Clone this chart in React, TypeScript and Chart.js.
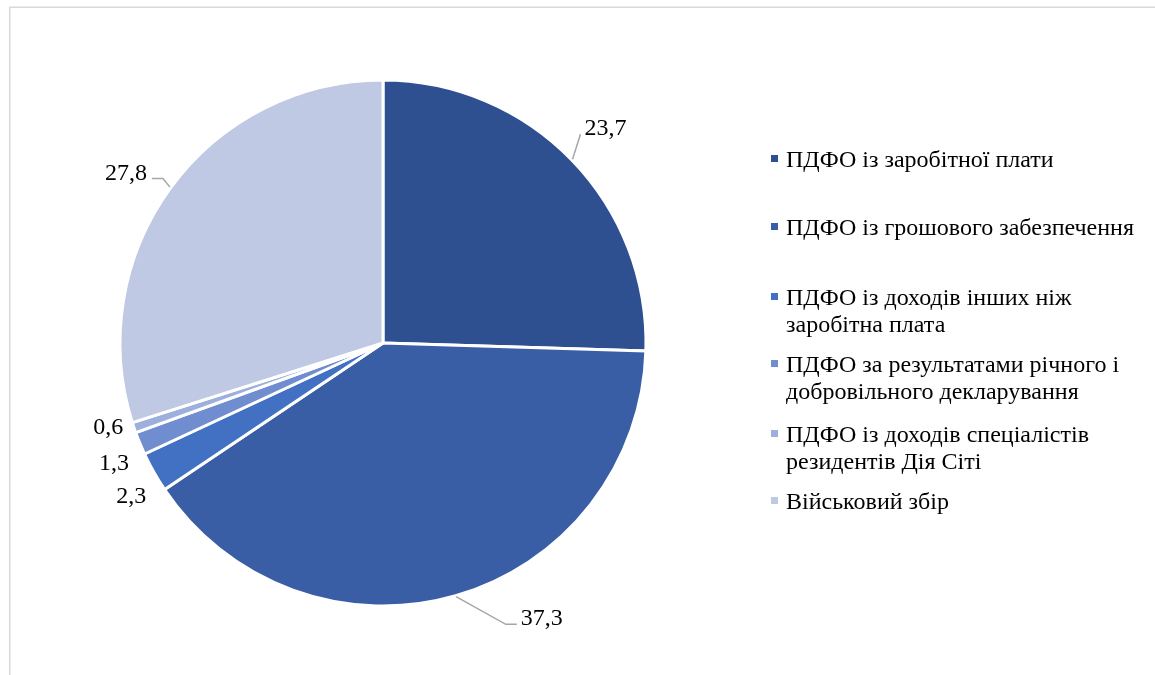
import React, { useEffect, useRef } from "react";
import { Chart, registerables } from "chart.js";

Chart.register(...registerables);

const categories: string[][] = [
  ["ПДФО із заробітної плати"],
  ["ПДФО із грошового забезпечення"],
  ["ПДФО із доходів інших ніж", "заробітна плата"],
  ["ПДФО за результатами річного і", "добровільного декларування"],
  ["ПДФО із доходів спеціалістів", "резидентів Дія Сіті"],
  ["Військовий збір"],
];
const values: number[] = [23.7, 37.3, 2.3, 1.3, 0.6, 27.8];
const valueLabels: string[] = ["23,7", "37,3", "2,3", "1,3", "0,6", "27,8"];
const colors: string[] = ["#2F5090", "#3A5EA6", "#4270C2", "#6F8DCF", "#9DB0DD", "#BFC9E4"];

const FONT = '"Liberation Serif", "Times New Roman", serif';
const FONT_SIZE = 24;

// layout of the hand-drawn legend (first-line baselines)
const legendBaselines = [167, 235, 305, 372, 442, 509];
const legendLineGap = 27;

// label placement tweaks (degrees of angle shift, extra distance beyond the rim)
const labelTweaks: { shift: number; extra: number }[] = [
  { shift: 0, extra: 47 },
  { shift: -14, extra: 54 },
  { shift: -1.7, extra: 31 },
  { shift: -1.4, extra: 31 },
  { shift: 2.0, extra: 24 },
  { shift: -2.5, extra: 46 },
];

const framePlugin = {
  id: "frame",
  beforeDraw(chart: any) {
    const ctx = chart.ctx;
    ctx.save();
    ctx.fillStyle = "#ffffff";
    ctx.fillRect(0, 0, chart.width, chart.height);
    ctx.strokeStyle = "#D9D9D9";
    ctx.lineWidth = 1.5;
    ctx.strokeRect(9.75, 7.25, chart.width + 50, chart.height + 50);
    ctx.restore();
  },
};

const labelPlugin = {
  id: "pieLabels",
  afterDatasetsDraw(chart: any) {
    const ctx = chart.ctx;
    const meta = chart.getDatasetMeta(0);
    ctx.save();
    ctx.font = `${FONT_SIZE}px ${FONT}`;
    ctx.textBaseline = "alphabetic";
    meta.data.forEach((arc: any, i: number) => {
      const p = arc.getProps(["startAngle", "endAngle", "outerRadius", "x", "y"], true);
      const mid = (p.startAngle + p.endAngle) / 2;
      const big = values[i] > 10;
      const tw = labelTweaks[i];
      const ang = mid + (tw.shift * Math.PI) / 180;
      const dist = p.outerRadius + tw.extra;
      const cx = p.x + Math.cos(ang) * dist;
      const cy = p.y + Math.sin(ang) * dist;
      const text = valueLabels[i];
      const w = ctx.measureText(text).width;
      const left = cx - w / 2;
      const right = cx + w / 2;
      const baseline = cy + 8;
      ctx.fillStyle = "#000000";
      ctx.textAlign = "left";
      ctx.fillText(text, left, baseline);
      if (big) {
        const ex = p.x + Math.cos(mid) * (p.outerRadius + 1);
        const ey = p.y + Math.sin(mid) * (p.outerRadius + 1);
        const onRight = cx > ex;
        const endX = onRight ? left - 4 : right + 5;
        const endY = baseline - 1;
        const elbowX = onRight ? endX - 11 : endX + 11;
        ctx.strokeStyle = "#A6A6A6";
        ctx.lineWidth = 1.5;
        ctx.beginPath();
        ctx.moveTo(ex, ey);
        if ((onRight && ex < elbowX) || (!onRight && ex > elbowX)) {
          ctx.lineTo(elbowX, endY);
        }
        ctx.lineTo(endX, endY);
        ctx.stroke();
      }
    });
    ctx.restore();
  },
};

const legendPlugin = {
  id: "sideLegend",
  afterDraw(chart: any) {
    const ctx = chart.ctx;
    ctx.save();
    ctx.font = `${FONT_SIZE}px ${FONT}`;
    ctx.textBaseline = "alphabetic";
    ctx.textAlign = "left";
    categories.forEach((lines, i) => {
      const b = legendBaselines[i];
      ctx.fillStyle = colors[i];
      ctx.fillRect(771, b - 12, 7, 7);
      ctx.fillStyle = "#000000";
      lines.forEach((ln, j) => {
        ctx.fillText(ln, 786, b + j * legendLineGap);
      });
    });
    ctx.restore();
  },
};

export default function App() {
  const ref = useRef<HTMLCanvasElement | null>(null);
  useEffect(() => {
    document.body.style.margin = "0";
    if (!ref.current) return;
    const chart = new Chart(ref.current, {
      type: "pie",
      data: {
        labels: categories.map((c) => c.join(" ")),
        datasets: [
          {
            data: values,
            backgroundColor: colors,
            borderColor: "#ffffff",
            borderWidth: 3,
          },
        ],
      },
      options: {
        responsive: false,
        animation: false,
        devicePixelRatio: 1,
        radius: 263,
        layout: { padding: { left: 0, right: 389, top: 11, bottom: 0 } },
        plugins: {
          legend: { display: false },
          tooltip: { enabled: false },
        },
      } as any,
      plugins: [framePlugin, labelPlugin, legendPlugin],
    });
    return () => chart.destroy();
  }, []);
  return (
    <div style={{ width: 1155, height: 675 }}>
      <canvas ref={ref} width={1155} height={675} style={{ display: "block" }} />
    </div>
  );
}
